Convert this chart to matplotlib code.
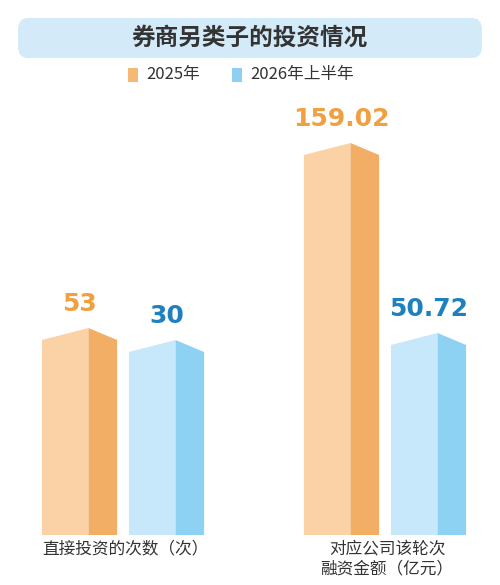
import matplotlib
matplotlib.use("Agg")
import matplotlib.pyplot as plt
from matplotlib.patches import Polygon, FancyBboxPatch

plt.rcParams['font.family'] = ['Noto Sans CJK SC', 'DejaVu Sans']

title = "券商另类子的投资情况"
series = ["2025年", "2026年上半年"]
categories = ["直接投资的次数（次）", "对应公司该轮次\n融资金额（亿元）"]
values_2025 = [53, 159.02]
values_2026h1 = [30, 50.72]
labels_2025 = ["53", "159.02"]
labels_2026h1 = ["30", "50.72"]

W, H = 500, 585
fig = plt.figure(figsize=(5, 5.85), dpi=100)
fig.patch.set_facecolor("white")

fig.patches.append(FancyBboxPatch((18/W, 1-58/H), 464/W, 40/H,
    boxstyle="round,pad=0,rounding_size=0.02", transform=fig.transFigure,
    facecolor="#D3EAF8", edgecolor="none"))
fig.text(0.5, 1-38/H, title, ha="center", va="center", fontsize=17,
         fontweight="bold", color="#333333")

fig.patches.append(plt.Rectangle((128/W, 1-82/H), 10/W, 14/H, transform=fig.transFigure,
                                 facecolor="#F6B877", edgecolor="none"))
fig.text(146/W, 1-75/H, series[0], va="center", fontsize=12, color="#333333")
fig.patches.append(plt.Rectangle((232/W, 1-82/H), 10/W, 14/H, transform=fig.transFigure,
                                 facecolor="#8FD0F2", edgecolor="none"))
fig.text(250/W, 1-75/H, series[1], va="center", fontsize=12, color="#333333")

orange = ("#FAD2A6", "#F3AE66")
blue = ("#C7E7FA", "#8ED2F3")

def draw_group(ax_left, ax_right, vals, labs, target_px, cat):
    bottom_px, top_px = 535, 100
    axh = bottom_px - top_px
    ax = fig.add_axes([ax_left/W, 1-bottom_px/H, (ax_right-ax_left)/W, axh/H])
    ax.axis("off")
    (v1, v2), (p1, p2) = vals, target_px
    k = (p1 - p2) / (v1 - v2)
    a = v1 - p1 / k
    ax.set_ylim(a, a + axh / k)
    ax.set_xlim(0, 2.2)
    d = 12 / k
    for i, (v, lab, cols, tc) in enumerate(zip(vals, labs, (orange, blue), ("#F0A040", "#1F80C0"))):
        x0 = 0.05 + i * 1.1
        x1 = x0 + 0.95
        xs = x0 + 0.95 * 0.62
        ax.add_patch(Polygon([(x0, a), (x0, v), (xs, v + d), (xs, a)], closed=True,
                             facecolor=cols[0], edgecolor="none"))
        ax.add_patch(Polygon([(xs, a), (xs, v + d), (x1, v), (x1, a)], closed=True,
                             facecolor=cols[1], edgecolor="none"))
        ax.text((x0 + x1) / 2, v + d + 12 / k, lab, ha="center", va="bottom",
                fontsize=18, fontweight="bold", color=tc, family="DejaVu Sans")
    fig.text((ax_left + ax_right) / 2 / W, 1 - 540/H, cat, ha="center", va="top",
             fontsize=12, color="#333333", linespacing=1.3)

draw_group(38, 212, [values_2025[0], values_2026h1[0]], [labels_2025[0], labels_2026h1[0]],
           (195, 183), categories[0])
draw_group(300, 474, [values_2025[1], values_2026h1[1]], [labels_2025[1], labels_2026h1[1]],
           (380, 190), categories[1])

fig.savefig("out.png", dpi=100, facecolor="white")
